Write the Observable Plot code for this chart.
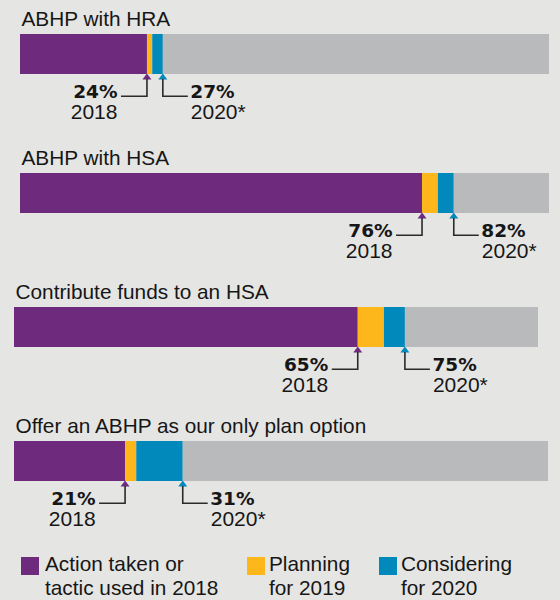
<!DOCTYPE html>
<html>
<head>
<meta charset="utf-8">
<script src="https://cdn.jsdelivr.net/npm/d3@7"></script>
<script src="https://cdn.jsdelivr.net/npm/@observablehq/plot@0.6"></script>
<style>
  html, body { margin: 0; padding: 0; background: #e5e5e3; }
  #chart { position: relative; width: 560px; height: 600px; background: #e5e5e3; overflow: hidden;
           font-family: "Liberation Sans", Arial, Helvetica, sans-serif; color: #161616; }
  .panel { position: absolute; left: 0; }
  .legend-swatch { position: absolute; width: 18px; height: 18px; }
  .legend-text { position: absolute; font-size: 20.8px; line-height: 24px; white-space: nowrap; }
</style>
</head>
<body>
<div id="chart"></div>
<script>
// ---- data ----
const measures = ["ABHP with HRA", "ABHP with HSA", "Contribute funds to an HSA", "Offer an ABHP as our only plan option"];
const action2018 = [24, 76, 65.6, 20.8];
const planning2019 = [1, 3, 5, 2.1];
const considering2020 = [2, 3, 4, 8.7];
const label2018 = ["24%", "76%", "65%", "21%"];
const label2020 = ["27%", "82%", "75%", "31%"];
const yearLabels = ["2018", "2020*"];
const segments = ["Action taken or tactic used in 2018", "Planning for 2019", "Considering for 2020", "Other"];
const legendLabels = [["Action taken or", "tactic used in 2018"], ["Planning", "for 2019"], ["Considering", "for 2020"]];

// ---- styles / layout ----
const colors = ["#6e2b7d", "#fdb71b", "#0089ba", "#b9babc"];
const panelLayout = [
  {top: 0, left: 20, right: 549},
  {top: 139, left: 20, right: 549},
  {top: 273, left: 14, right: 538},
  {top: 407, left: 14, right: 548}
];
const legendLayout = [{swatch: 21, text: 45}, {swatch: 247, text: 269}, {swatch: 379, text: 401}];
const W = 560, H = 134, MT = 34, MB = 60;

const chart = document.getElementById("chart");

function connectors(points) {
  return (index, scales, values, dims) => {
    const g = d3.create("svg:g");
    const yb = dims.height - dims.marginBottom;
    for (const p of points) {
      const px = scales.x(p.x);
      g.append("path")
        .attr("d", `M${px - 4.5},${yb + 5.5}L${px},${yb - 0.5}L${px + 4.5},${yb + 5.5}Z`)
        .attr("fill", p.color);
      const hx = p.side === "left" ? px - 26 : px + 25;
      g.append("path")
        .attr("d", `M${px},${yb + 5}V${yb + 22.3}H${hx}`)
        .attr("fill", "none")
        .attr("stroke", "#2b2b2b")
        .attr("stroke-width", 1.6);
    }
    return g.node();
  };
}

measures.forEach((title, i) => {
  const L = panelLayout[i];
  const vals = [action2018[i], planning2019[i], considering2020[i]];
  const total = d3.sum(vals);
  const rows = segments.map((s, j) => ({segment: s, value: j < 3 ? vals[j] : 100 - total}));
  const leftX = action2018[i];
  const rightX = total;

  const plot = Plot.plot({
    width: W,
    height: H,
    marginTop: MT,
    marginBottom: MB,
    marginLeft: L.left,
    marginRight: W - L.right,
    x: {domain: [0, 100], axis: null},
    color: {domain: segments, range: colors},
    style: {background: "transparent", fontFamily: "Liberation Sans, Arial, sans-serif", color: "#161616", overflow: "visible"},
    marks: [
      Plot.barX(rows, Plot.stackX({x: "value", fill: "segment", order: null})),
      Plot.text([title], {text: d => d, frameAnchor: "top-left", textAnchor: "start", lineAnchor: "bottom", dy: -8.5, dx: 1, fontSize: 20.8}),
      connectors([
        {x: leftX, side: "left", color: colors[0]},
        {x: rightX, side: "right", color: colors[2]}
      ]),
      Plot.text([{x: leftX, t: label2018[i]}], {x: "x", text: "t", frameAnchor: "bottom", textAnchor: "end", lineAnchor: "bottom", dx: -30, dy: 23, fontSize: 18.5, fontWeight: "bold", fontFamily: "DejaVu Sans"}),
      Plot.text([{x: leftX, t: yearLabels[0]}], {x: "x", text: "t", frameAnchor: "bottom", textAnchor: "end", lineAnchor: "bottom", dx: -30, dy: 44, fontSize: 21}),
      Plot.text([{x: rightX, t: label2020[i]}], {x: "x", text: "t", frameAnchor: "bottom", textAnchor: "start", lineAnchor: "bottom", dx: 27, dy: 23, fontSize: 18.5, fontWeight: "bold", fontFamily: "DejaVu Sans"}),
      Plot.text([{x: rightX, t: yearLabels[1]}], {x: "x", text: "t", frameAnchor: "bottom", textAnchor: "start", lineAnchor: "bottom", dx: 27.5, dy: 44, fontSize: 21})
    ]
  });
  const div = document.createElement("div");
  div.className = "panel";
  div.style.top = L.top + "px";
  div.appendChild(plot);
  chart.appendChild(div);
});

// legend
legendLabels.forEach((lines, i) => {
  const sw = document.createElement("div");
  sw.className = "legend-swatch";
  sw.style.left = legendLayout[i].swatch + "px";
  sw.style.top = "557px";
  sw.style.background = colors[i];
  chart.appendChild(sw);
  const tx = document.createElement("div");
  tx.className = "legend-text";
  tx.style.left = legendLayout[i].text + "px";
  tx.style.top = "551.5px";
  lines.forEach((ln, k) => {
    if (k) tx.appendChild(document.createElement("br"));
    tx.appendChild(document.createTextNode(ln));
  });
  chart.appendChild(tx);
});
</script>
</body>
</html>
